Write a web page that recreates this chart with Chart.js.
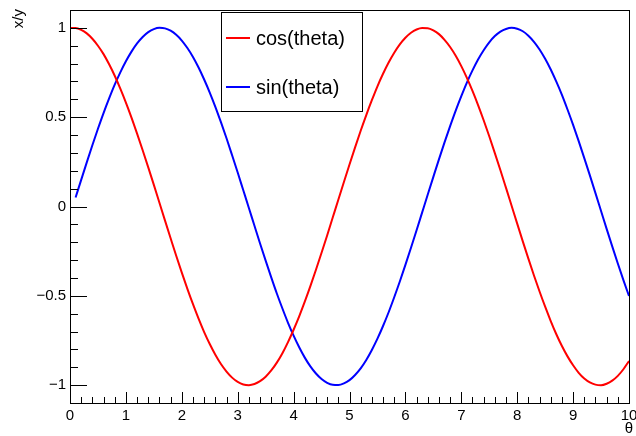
<!DOCTYPE html>
<html>
<head>
<meta charset="utf-8">
<script src="https://cdn.jsdelivr.net/npm/chart.js@4.4.1/dist/chart.umd.min.js"></script>
<style>
  html, body { margin: 0; padding: 0; background: #fff; }
  canvas { display: block; }
</style>
</head>
<body>
<canvas id="trigChart" width="636" height="436"></canvas>
<script>
// theta samples along the x axis
const theta = [
    0.0, 0.1, 0.2, 0.3, 0.4, 0.5, 0.6, 0.7, 0.8, 0.9,
    1.0, 1.1, 1.2, 1.3, 1.4, 1.5, 1.6, 1.7, 1.8, 1.9,
    2.0, 2.1, 2.2, 2.3, 2.4, 2.5, 2.6, 2.7, 2.8, 2.9,
    3.0, 3.1, 3.2, 3.3, 3.4, 3.5, 3.6, 3.7, 3.8, 3.9,
    4.0, 4.1, 4.2, 4.3, 4.4, 4.5, 4.6, 4.7, 4.8, 4.9,
    5.0, 5.1, 5.2, 5.3, 5.4, 5.5, 5.6, 5.7, 5.8, 5.9,
    6.0, 6.1, 6.2, 6.3, 6.4, 6.5, 6.6, 6.7, 6.8, 6.9,
    7.0, 7.1, 7.2, 7.3, 7.4, 7.5, 7.6, 7.7, 7.8, 7.9,
    8.0, 8.1, 8.2, 8.3, 8.4, 8.5, 8.6, 8.7, 8.8, 8.9,
    9.0, 9.1, 9.2, 9.3, 9.4, 9.5, 9.6, 9.7, 9.8, 9.9,
    10.0
];

// red curve
const cosVals = [
    0.999,
    0.999, 0.989, 0.969, 0.939, 0.900, 0.853, 0.796, 0.732, 0.660, 0.582, 0.498, 0.408, 0.315, 0.219, 0.121, 0.021,
    -0.079, -0.178, -0.276, -0.370, -0.461, -0.547, -0.628, -0.703, -0.770, -0.830, -0.882, -0.924, -0.958, -0.982, -0.996, -1.000,
    -0.994, -0.978, -0.953, -0.918, -0.874, -0.821, -0.759, -0.690, -0.615, -0.533, -0.446, -0.354, -0.259, -0.162, -0.062,
    0.038, 0.137, 0.235, 0.331, 0.424, 0.512, 0.595, 0.673, 0.743, 0.806, 0.861, 0.908, 0.945, 0.973, 0.991, 0.999,
    0.998, 0.986, 0.965, 0.933, 0.893, 0.844, 0.786, 0.720, 0.647, 0.568, 0.483, 0.393, 0.299, 0.203, 0.104,
    0.004, -0.096, -0.195, -0.292, -0.386, -0.476, -0.561, -0.641, -0.715, -0.781, -0.839, -0.889, -0.931, -0.963, -0.985, -0.997,
    -1.000, -0.992, -0.975, -0.948, -0.911, -0.865
];

// blue curve (no point at theta = 0)
const sinVals = [
    null,
    0.050, 0.149, 0.247, 0.343, 0.435, 0.523, 0.605, 0.682, 0.751, 0.813, 0.867, 0.913, 0.949, 0.976, 0.993, 1.000,
    0.997, 0.984, 0.961, 0.929, 0.887, 0.837, 0.778, 0.711, 0.638, 0.558, 0.472, 0.382, 0.287, 0.190, 0.091,
    -0.008, -0.108, -0.207, -0.303, -0.397, -0.487, -0.571, -0.651, -0.723, -0.788, -0.846, -0.895, -0.935, -0.966, -0.987, -0.998,
    -0.999, -0.990, -0.972, -0.943, -0.906, -0.859, -0.803, -0.740, -0.669, -0.592, -0.508, -0.420, -0.327, -0.231, -0.133, -0.033,
    0.067, 0.166, 0.264, 0.359, 0.450, 0.537, 0.618, 0.694, 0.762, 0.823, 0.875, 0.919, 0.954, 0.979, 0.994, 1.000,
    0.995, 0.981, 0.956, 0.922, 0.879, 0.827, 0.767, 0.699, 0.625, 0.543, 0.457, 0.366, 0.271, 0.174, 0.075,
    -0.025, -0.125, -0.223, -0.319, -0.412, -0.501
];

const seriesNames = ['cos(theta)', 'sin(theta)'];
const seriesColors = ['#ff0000', '#0000ff'];
const yTickValues = [-1, -0.5, 0, 0.5, 1];

const FONT = 'Liberation Sans, Arial, Helvetica, sans-serif';

function toPoints(ys) {
    return theta.map((x, i) => ({ x: x, y: ys[i] }));
}

// frame, inward ticks, legend box and axis titles
const framePlugin = {
    id: 'frame',
    afterDraw(chart) {
        const ctx = chart.ctx;
        const area = chart.chartArea;
        const xs = chart.scales.x;
        const ys = chart.scales.y;
        ctx.save();
        ctx.strokeStyle = '#000';
        ctx.lineWidth = 1;

        // y ticks: major every 0.5, minor every 0.1
        for (let k = -11; k <= 11; k++) {
            const v = k / 10;
            const py = Math.round(ys.getPixelForValue(v)) + 0.5;
            const len = (k % 5 === 0) ? 17 : 8;
            ctx.beginPath();
            ctx.moveTo(area.left, py);
            ctx.lineTo(area.left + len, py);
            ctx.stroke();
        }
        // x ticks: major every 1, minor every 0.2
        for (let k = 0; k <= 50; k++) {
            const v = k / 5;
            const px = Math.round(xs.getPixelForValue(v)) + 0.5;
            const len = (k % 5 === 0) ? 11 : 6;
            ctx.beginPath();
            ctx.moveTo(px, area.bottom);
            ctx.lineTo(px, area.bottom - len);
            ctx.stroke();
        }

        ctx.strokeRect(Math.round(area.left) + 0.5, Math.round(area.top) + 0.5,
            Math.round(area.right - area.left), Math.round(area.bottom - area.top));

        // legend
        const lx = 221, ly = 12, lw = 141, lh = 99;
        ctx.fillStyle = '#fff';
        ctx.fillRect(lx, ly, lw, lh);
        ctx.strokeStyle = '#000';
        ctx.strokeRect(lx + 0.5, ly + 0.5, lw, lh);
        ctx.font = '20px ' + FONT;
        ctx.textBaseline = 'middle';
        ctx.textAlign = 'left';
        chart.data.datasets.forEach((ds, i) => {
            const cy = 38 + i * 49;
            ctx.strokeStyle = ds.borderColor;
            ctx.lineWidth = 2;
            ctx.beginPath();
            ctx.moveTo(226, cy);
            ctx.lineTo(250, cy);
            ctx.stroke();
            ctx.fillStyle = '#000';
            ctx.fillText(ds.label, 256, cy + 1);
        });

        // axis titles
        ctx.fillStyle = '#000';
        ctx.font = '15px ' + FONT;
        ctx.textAlign = 'right';
        ctx.textBaseline = 'alphabetic';
        ctx.fillText('\u03b8', 633, 433);

        ctx.translate(23, 9);
        ctx.rotate(-Math.PI / 2);
        ctx.textAlign = 'right';
        ctx.fillText('x/y', 0, 0);
        ctx.restore();
    }
};

const ctx = document.getElementById('trigChart').getContext('2d');
const trigChart = new Chart(ctx, {
    type: 'line',
    data: {
        datasets: [
            {
                label: seriesNames[0],
                data: toPoints(cosVals),
                borderColor: seriesColors[0],
                borderWidth: 2,
                pointRadius: 0,
                cubicInterpolationMode: 'monotone',
                fill: false
            },
            {
                label: seriesNames[1],
                data: toPoints(sinVals),
                borderColor: seriesColors[1],
                borderWidth: 2,
                pointRadius: 0,
                cubicInterpolationMode: 'monotone',
                fill: false,
                spanGaps: false
            }
        ]
    },
    options: {
        responsive: false,
        animation: false,
        layout: { padding: { top: 10, right: 7, left: 0, bottom: 0 } },
        plugins: {
            legend: { display: false },
            tooltip: { enabled: false }
        },
        scales: {
            x: {
                type: 'linear',
                min: 0,
                max: 10,
                grid: { display: false, drawTicks: false },
                border: { display: false },
                ticks: {
                    stepSize: 1,
                    padding: 4,
                    color: '#000',
                    font: { family: FONT, size: 15 },
                    maxRotation: 0
                },
                afterFit(scale) {
                    scale.height = 33;
                    scale.paddingLeft = 0;
                    scale.paddingRight = 0;
                }
            },
            y: {
                type: 'linear',
                min: -1.1,
                max: 1.1,
                grid: { display: false, drawTicks: false },
                border: { display: false },
                afterBuildTicks(scale) {
                    scale.ticks = yTickValues.map(v => ({ value: v }));
                },
                ticks: {
                    padding: 4,
                    color: '#000',
                    font: { family: FONT, size: 15 },
                    callback: v => String(v).replace('-', '\u2212')
                },
                afterFit(scale) {
                    scale.width = 70;
                    scale.paddingTop = 0;
                    scale.paddingBottom = 0;
                }
            }
        }
    },
    plugins: [framePlugin]
});
</script>
</body>
</html>
